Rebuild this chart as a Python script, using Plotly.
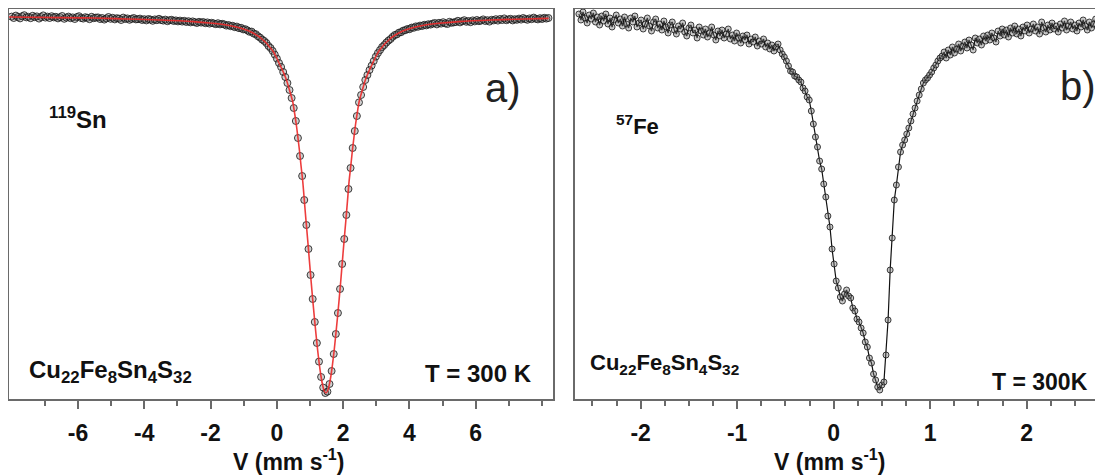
import numpy as np
import plotly.graph_objects as go

# ---------------- panel a) 119Sn ----------------
sn_v0 = -8.0          # first channel velocity (mm/s)
sn_dv = 0.0635        # channel step (mm/s)
sn_t = [
    99.97, 99.90, 100.02, 99.95, 99.88, 99.99, 100.04, 99.93, 99.96, 99.89, 100.01, 99.94, 99.98, 99.87, 99.95, 100.03, 99.92, 99.97, 99.90, 99.99, 99.93,
    99.96, 99.88, 99.94, 100.00, 99.86, 99.92, 99.97, 99.89, 99.93, 99.85, 99.95, 99.99, 99.90, 99.87, 99.94, 99.91, 99.84, 99.96, 99.89, 99.92,
    99.93, 99.85, 99.90, 99.82, 99.88, 99.95, 99.86, 99.91, 99.83, 99.89, 99.87, 99.80, 99.92, 99.85, 99.88, 99.81, 99.86, 99.90, 99.83, 99.84,
    99.87, 99.80, 99.84, 99.78, 99.85, 99.82, 99.76, 99.83, 99.79, 99.86, 99.80, 99.77, 99.82, 99.74, 99.79, 99.81, 99.75, 99.78, 99.73, 99.77,
    99.72, 99.76, 99.70, 99.74, 99.68, 99.73, 99.69, 99.65, 99.71, 99.67, 99.70, 99.64, 99.68, 99.62, 99.66, 99.63, 99.59, 99.64, 99.58, 99.61,
    99.58, 99.52, 99.55, 99.49, 99.51, 99.44, 99.47, 99.39, 99.41, 99.33, 99.34, 99.28, 99.21, 99.22, 99.12, 99.09, 98.99,
    98.92, 98.82, 98.75, 98.65, 98.50, 98.40, 98.25, 98.07, 97.87, 97.65, 97.45, 97.20, 96.95, 96.65, 96.30, 95.90, 95.40, 94.75, 93.90, 93.00,
    92.00, 90.80, 89.55, 88.35, 87.05, 85.85, 84.70, 83.65, 82.72, 81.95, 81.42, 81.15, 81.22, 81.60, 82.25, 83.10, 84.10, 85.15, 86.35, 87.60,
    88.85, 90.05, 91.35, 92.40, 93.40, 94.25, 95.00, 95.68, 96.05, 96.45, 96.80, 97.05, 97.30, 97.52, 97.75, 97.97, 98.15, 98.30, 98.45, 98.55,
    98.67, 98.77, 98.85,
    98.96, 99.05, 99.08, 99.17, 99.19, 99.27, 99.29, 99.35, 99.34, 99.42, 99.41, 99.48, 99.46, 99.52, 99.50, 99.56, 99.53, 99.59, 99.57, 99.62,
    99.65, 99.58, 99.66, 99.62, 99.69, 99.63, 99.60, 99.71, 99.66, 99.68,
    99.70, 99.76, 99.68, 99.74, 99.79, 99.71, 99.75, 99.69, 99.78, 99.73,
    99.80, 99.74, 99.77, 99.83, 99.75, 99.79, 99.72, 99.81, 99.78, 99.84,
    99.77, 99.85, 99.80, 99.88, 99.79, 99.83, 99.86, 99.78, 99.84, 99.81,
    99.87, 99.82, 99.90, 99.85, 99.81, 99.88, 99.84, 99.92, 99.86, 99.83, 99.89, 99.85, 99.91, 99.87, 99.90,
]
sn_v = sn_v0 + sn_dv * np.arange(len(sn_t))

# fitted envelope of panel a)
sn_fit_v = [-8.10, -6.52, -5.52, -4.52, -3.52, -2.52, -2.02, -1.52, -1.22, -0.92, -0.72, -0.52, -0.42, -0.32, -0.22,
            -0.12, -0.02, 0.08, 0.18, 0.28, 0.38, 0.48, 0.53, 0.58, 0.63, 0.68, 0.73, 0.78, 0.83, 0.88, 0.93, 0.98,
            1.03, 1.08, 1.13, 1.18, 1.23, 1.28, 1.33, 1.38, 1.43, 1.48, 1.53, 1.58, 1.63, 1.68, 1.73, 1.78, 1.83,
            1.88, 1.93, 1.98, 2.03, 2.08, 2.13, 2.18, 2.23, 2.28, 2.33, 2.38, 2.43, 2.48, 2.58, 2.68, 2.78, 2.88,
            2.98, 3.08, 3.18, 3.28, 3.38, 3.48, 3.68, 3.88, 4.18, 4.48, 4.98, 5.48, 6.48, 7.48, 8.20]
sn_fit_t = [99.95, 99.92, 99.90, 99.85, 99.80, 99.72, 99.65, 99.55, 99.45, 99.30, 99.15, 98.95, 98.80, 98.65, 98.45,
            98.25, 97.95, 97.60, 97.25, 96.85, 96.30, 95.70, 95.20, 94.65, 94.00, 93.30, 92.50, 91.75, 90.75, 89.75, 88.80, 87.80,
            86.80, 85.85, 84.95, 84.10, 83.30, 82.60, 82.00, 81.55, 81.25, 81.15, 81.25, 81.55, 82.00, 82.60, 83.30, 84.10, 84.95,
            85.85, 86.80, 87.80, 88.80, 89.75, 90.75, 91.75, 92.50, 93.30, 94.00, 94.65, 95.20, 95.70, 96.30, 96.85, 97.25, 97.60,
            97.95, 98.25, 98.45, 98.65, 98.80, 98.95, 99.15, 99.30, 99.45, 99.55, 99.65, 99.72, 99.80, 99.85, 99.88]

# ---------------- panel b) 57Fe ----------------
fe_v0 = -2.64
fe_dv = 0.0215
fe_t = [
    100.02, 99.90, 100.06, 99.94, 99.84, 100.00, 99.92, 100.04, 99.86, 99.96, 99.80, 99.98, 99.88, 100.02, 99.82, 99.94, 99.76, 99.90, 100.00, 99.84, 99.92,
    99.78, 99.96, 99.82, 99.74, 99.94, 99.86, 99.98, 99.76, 99.84, 99.90, 99.72, 99.82, 99.94, 99.78, 99.68, 99.86, 99.92, 99.74, 99.82, 99.70,
    99.88, 99.76, 99.64, 99.80, 99.86, 99.70, 99.62, 99.78, 99.72, 99.84, 99.66, 99.58, 99.74, 99.80, 99.64, 99.70, 99.54, 99.76, 99.68, 99.60,
    99.72, 99.56, 99.64, 99.76, 99.60, 99.50, 99.68, 99.58, 99.70, 99.54, 99.62, 99.72, 99.52, 99.60, 99.48,
    99.64, 99.54, 99.44, 99.58, 99.50, 99.60, 99.42, 99.52, 99.46, 99.56, 99.38, 99.48, 99.42, 99.52, 99.36,
    99.44, 99.32, 99.40, 99.28, 99.36, 99.42, 99.30,
    99.22, 99.16, 99.08, 98.98, 98.88, 98.86, 98.78, 98.76, 98.70, 98.66, 98.54, 98.48, 98.36, 98.30, 98.08, 97.82,
    97.56, 97.36, 97.08, 96.92, 96.62, 96.36, 95.98, 95.76, 95.32, 95.02, 94.68, 94.54, 94.36, 94.28, 94.42, 94.50,
    94.38, 94.34, 94.14, 94.08, 93.92, 93.86, 93.74, 93.64, 93.46, 93.36, 93.14, 93.04, 92.82, 92.70, 92.56, 92.50,
    92.60, 92.66, 93.20, 93.90, 94.90, 95.54, 96.30, 96.60, 96.96, 97.26, 97.40, 97.50, 97.62, 97.74, 97.88, 98.02,
    98.14, 98.28, 98.40, 98.52, 98.64, 98.70, 98.74, 98.80, 98.86, 98.94, 99.00, 99.08, 99.14, 99.18,
    99.26, 99.14, 99.30, 99.20, 99.36, 99.24, 99.32, 99.42, 99.28, 99.38,
    99.46, 99.34, 99.50, 99.40, 99.30, 99.54, 99.44, 99.52, 99.40, 99.58,
    99.48, 99.60, 99.50, 99.64, 99.54, 99.46, 99.68, 99.58, 99.72, 99.60,
    99.70, 99.56, 99.74, 99.64, 99.78, 99.62, 99.72, 99.58, 99.76, 99.68,
    99.80, 99.64, 99.72, 99.82, 99.68, 99.76, 99.62, 99.86, 99.74, 99.66, 99.80, 99.70, 99.84, 99.72, 99.78,
    99.66, 99.82, 99.74, 99.88, 99.70, 99.78, 99.86, 99.72, 99.80, 99.68, 99.84, 99.76, 99.90, 99.78, 99.70,
    99.86, 99.74, 99.82, 99.92, 99.76, 99.84, 99.72, 99.88, 99.80, 99.86,
]
fe_v = fe_v0 + fe_dv * np.arange(len(fe_t))

# axis ticks
sn_ticks = [-6, -4, -2, 0, 2, 4, 6]
sn_ticktext = ["-6", "-4", "-2", "0", "2", "4", "6"]
sn_minor = [-7, -5, -3, -1, 1, 3, 5, 7, 8]
fe_ticks = [-2, -1, 0, 1, 2]
fe_ticktext = ["-2", "-1", "0", "1", "2"]

W, H = 1103, 475
OFF = 8   # page body margin: reference pixel (x, y) sits at figure pixel (x-8, y-8)
FONT = "Liberation Sans, Arial, sans-serif"
FRAME = "#6a6a6a"

def px(x):
    return (x - OFF) / W

def py(y):
    return 1 - (y - OFF) / H

fig = go.Figure()

fig.add_trace(go.Scatter(
    x=sn_v, y=sn_t, mode="markers", xaxis="x", yaxis="y",
    marker=dict(symbol="circle", size=7, color="rgba(120,120,120,0.35)",
                line=dict(color="rgba(20,20,20,0.8)", width=1)),
    showlegend=False))
fig.add_trace(go.Scatter(
    x=sn_fit_v, y=sn_fit_t, mode="lines", line_shape="spline", xaxis="x", yaxis="y",
    line=dict(color="rgba(235,40,40,0.9)", width=1.6), showlegend=False))

fig.add_trace(go.Scatter(
    x=fe_v, y=fe_t, mode="lines+markers", xaxis="x2", yaxis="y2",
    line=dict(color="#111111", width=1.2),
    marker=dict(symbol="circle", size=6, color="rgba(120,120,120,0.4)",
                line=dict(color="rgba(20,20,20,0.8)", width=1)),
    showlegend=False))

y_dom = [py(399), py(9)]
tickfont = dict(family=FONT, size=23, color="#111111", weight=700)

fig.update_layout(
    width=W, height=H, autosize=False,
    margin=dict(l=0, r=0, t=0, b=0),
    paper_bgcolor="white", plot_bgcolor="white",
    xaxis=dict(domain=[px(9), px(553)], range=[-8.08, 8.33], anchor="y",
               showline=True, mirror=True, linecolor=FRAME, linewidth=2,
               showgrid=False, zeroline=False,
               tickmode="array", tickvals=sn_ticks, ticktext=sn_ticktext,
               ticks="outside", ticklen=8, tickwidth=1.5,
               tickcolor=FRAME, tickfont=tickfont, ticklabelstandoff=4,
               minor=dict(tickmode="array", tickvals=sn_minor, ticks="outside", ticklen=5,
                          tickwidth=1.5, tickcolor=FRAME, showgrid=False)),
    yaxis=dict(domain=y_dom, range=[80.85, 100.35], anchor="x",
               showline=True, mirror=True, linecolor=FRAME, linewidth=2,
               showgrid=False, zeroline=False, showticklabels=False, ticks=""),
    xaxis2=dict(domain=[px(575), px(1103)], range=[-2.68, 2.79], anchor="y2",
                showline=True, mirror=True, linecolor=FRAME, linewidth=2,
                showgrid=False, zeroline=False,
                tickmode="array", tickvals=fe_ticks, ticktext=fe_ticktext,
                ticks="outside", ticklen=8, tickwidth=1.5,
                tickcolor=FRAME, tickfont=tickfont, ticklabelstandoff=4,
                minor=dict(tickmode="linear", tick0=0, dtick=0.25, ticks="outside", ticklen=5,
                           tickwidth=1.5, tickcolor=FRAME, showgrid=False)),
    yaxis2=dict(domain=y_dom, range=[92.32, 100.12], anchor="x2",
                showline=True, mirror=False, linecolor=FRAME, linewidth=2,
                showgrid=False, zeroline=False, showticklabels=False, ticks=""),
)

def note(text, x, y, size, xanchor="center", weight=700, color="#111111"):
    fig.add_annotation(text=text, x=px(x), y=py(y), xref="paper", yref="paper",
                       xanchor=xanchor, yanchor="middle", showarrow=False,
                       font=dict(family=FONT, size=size, color=color, weight=weight))

note("a)", 503, 88, 40, weight=400, color="#222222")
note("b)", 1078, 86, 40, weight=400, color="#222222")
note("<sup>119</sup>Sn", 47, 118, 24, xanchor="left")
note("<sup>57</sup>Fe", 614, 125, 22, xanchor="left")
note("Cu<sub>22</sub>Fe<sub>8</sub>Sn<sub>4</sub>S<sub>32</sub>", 27, 371, 24, xanchor="left")
note("T = 300 K", 534, 373, 24, xanchor="right")
note("Cu<sub>22</sub>Fe<sub>8</sub>Sn<sub>4</sub>S<sub>32</sub>", 588, 364, 22, xanchor="left")
note("T = 300K", 1090, 382, 23, xanchor="right")
note("V (mm s<sup>-1</sup>)", 288, 460, 23)
note("V (mm s<sup>-1</sup>)", 829, 460, 23)

fig.write_html("out.html")
